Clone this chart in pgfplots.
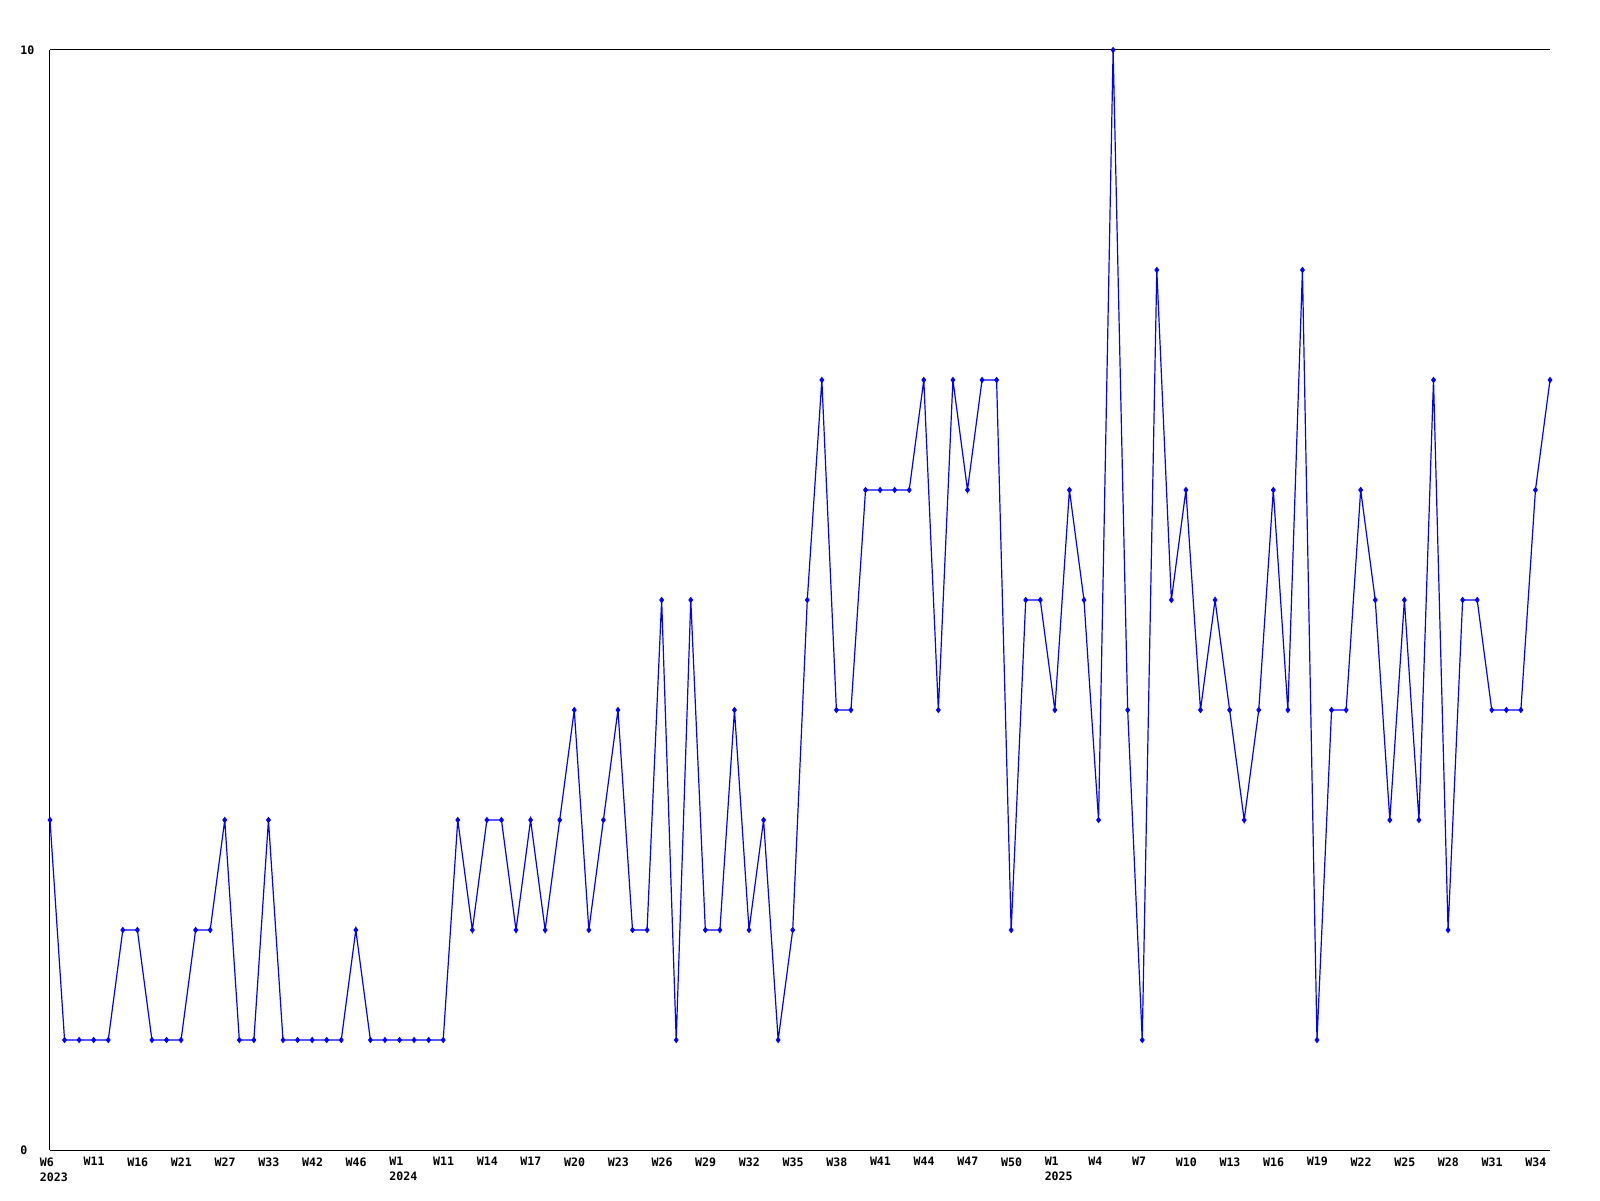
\documentclass[border=0pt]{standalone}
\usepackage{pgfplots}
\pgfplotsset{compat=1.18}
\usepackage{fontspec}
\setmainfont{DejaVu Sans Mono}
\definecolor{lineblue}{RGB}{0,0,255}
\begin{document}
\begin{tikzpicture}
\path[use as bounding box] (-25pt,-25pt) rectangle (775pt,575pt);
\begin{axis}[
  at={(0,0)}, anchor=south west,
  scale only axis, width=750pt, height=550pt,
  xmin=0, xmax=103, ymin=0, ymax=10,
  enlargelimits=false,
  axis x line=box, axis y line=left,
  axis line style={-, line width=0.5pt, black},
  major tick length=0pt,
  font=\fontsize{5.8}{7.5}\selectfont\bfseries,
  /pgf/number format/assume math mode=true,
  ytick={0,10}, yticklabels={0,10},
  yticklabel style={anchor=west, inner sep=0pt, xshift=-15pt},
  xtick={0,3,...,102},
  xticklabels={{W6\\2023},W11,W16,W21,W27,W33,W42,W46,{W1\\2024},W11,W14,W17,W20,W23,W26,W29,W32,W35,W38,W41,W44,W47,W50,{W1\\2025},W4,W7,W10,W13,W16,W19,W22,W25,W28,W31,W34},
  xticklabel style={anchor=north west, align=left, inner sep=0pt, xshift=-5.25pt, yshift=-3.5pt},
  clip=false,
]
\addplot[color=lineblue, line width=0.6pt, mark=diamond*, mark size=1.3pt, mark options={fill=lineblue, draw=lineblue, line width=0.4pt}]
coordinates {
(0,3)(1,1)(2,1)(3,1)(4,1)(5,2)(6,2)(7,1)(8,1)(9,1)
(10,2)(11,2)(12,3)(13,1)(14,1)(15,3)(16,1)(17,1)(18,1)(19,1)
(20,1)(21,2)(22,1)(23,1)(24,1)(25,1)(26,1)(27,1)(28,3)(29,2)
(30,3)(31,3)(32,2)(33,3)(34,2)(35,3)(36,4)(37,2)(38,3)(39,4)
(40,2)(41,2)(42,5)(43,1)(44,5)(45,2)(46,2)(47,4)(48,2)(49,3)
(50,1)(51,2)(52,5)(53,7)(54,4)(55,4)(56,6)(57,6)(58,6)(59,6)
(60,7)(61,4)(62,7)(63,6)(64,7)(65,7)(66,2)(67,5)(68,5)(69,4)
(70,6)(71,5)(72,3)(73,10)(74,4)(75,1)(76,8)(77,5)(78,6)(79,4)
(80,5)(81,4)(82,3)(83,4)(84,6)(85,4)(86,8)(87,1)(88,4)(89,4)
(90,6)(91,5)(92,3)(93,5)(94,3)(95,7)(96,2)(97,5)(98,5)(99,4)
(100,4)(101,4)(102,6)(103,7)
};
\end{axis}
\end{tikzpicture}
\end{document}
